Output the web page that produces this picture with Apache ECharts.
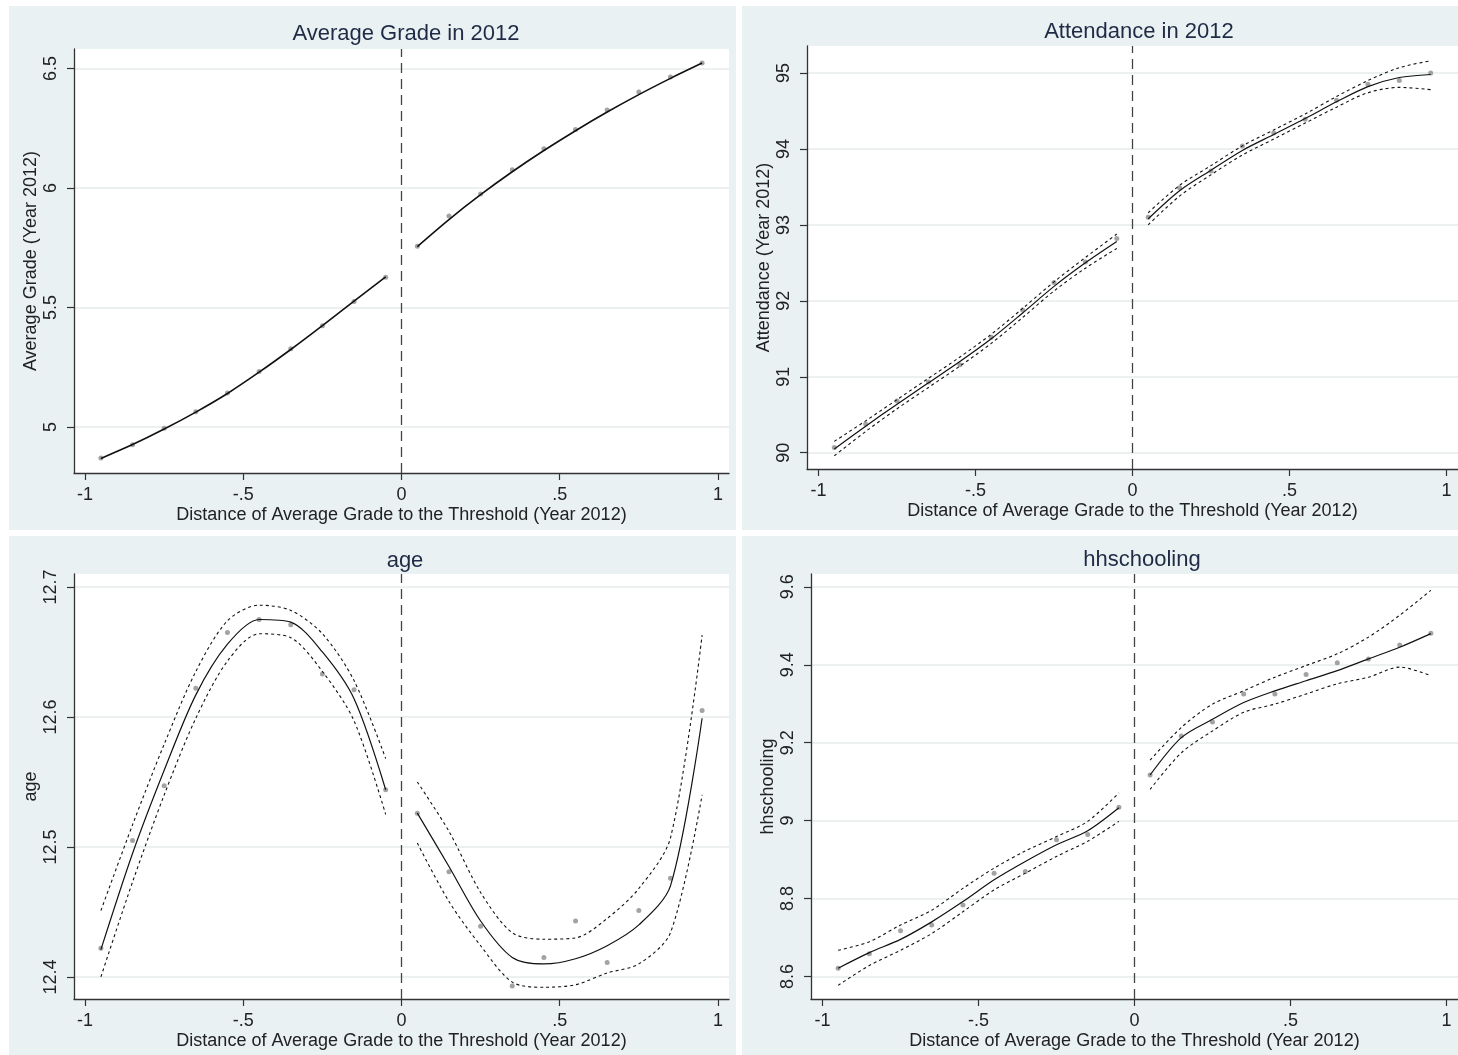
<!DOCTYPE html>
<html>
<head>
<meta charset="utf-8">
<script src="https://cdn.jsdelivr.net/npm/echarts@6/dist/echarts.min.js"></script>
<style>
html, body { margin: 0; padding: 0; background: #fff; }
#main { width: 1458px; height: 1055px; }
</style>
</head>
<body>
<div id="main"></div>
<script>
// bins on each side of the threshold
var binsLeft = [-0.95, -0.85, -0.75, -0.65, -0.55, -0.45, -0.35, -0.25, -0.15, -0.05];
var binsRight = [0.05, 0.15, 0.25, 0.35, 0.45, 0.55, 0.65, 0.75, 0.85, 0.95];
var xTicks = [-1, -0.5, 0, 0.5, 1];

// Average Grade in 2012
var gradeTicks = [5, 5.5, 6, 6.5];
var gradePtsL = [4.870, 4.925, 4.994, 5.063, 5.142, 5.232, 5.327, 5.423, 5.525, 5.626];
var gradePtsR = [5.756, 5.883, 5.975, 6.077, 6.164, 6.245, 6.327, 6.402, 6.465, 6.523];
var gradeFitL = [4.868, 4.926, 4.991, 5.062, 5.140, 5.229, 5.324, 5.424, 5.527, 5.628];
var gradeFitR = [5.755, 5.868, 5.972, 6.068, 6.157, 6.240, 6.318, 6.391, 6.459, 6.523];

// Attendance in 2012
var attTicks = [90, 91, 92, 93, 94, 95];
var attPtsL = [90.07, 90.38, 90.68, 90.93, 91.16, 91.52, 91.88, 92.24, 92.51, 92.82];
var attPtsR = [93.10, 93.49, 93.71, 94.04, 94.21, 94.39, 94.64, 94.85, 94.90, 95.00];
var attFitL = [90.05, 90.35, 90.64, 90.92, 91.20, 91.50, 91.84, 92.19, 92.50, 92.78];
var attHiL = [90.15, 90.42, 90.70, 90.98, 91.26, 91.56, 91.90, 92.25, 92.57, 92.88];
var attLoL = [89.96, 90.28, 90.58, 90.86, 91.14, 91.44, 91.78, 92.13, 92.43, 92.69];
var attFitR = [93.08, 93.45, 93.72, 93.98, 94.19, 94.40, 94.62, 94.82, 94.94, 94.98];
var attHiR = [93.16, 93.52, 93.78, 94.04, 94.25, 94.46, 94.69, 94.90, 95.07, 95.16];
var attLoR = [93.00, 93.38, 93.66, 93.92, 94.13, 94.34, 94.55, 94.74, 94.81, 94.78];

// age
var ageTicks = [12.4, 12.5, 12.6, 12.7];
var agePtsL = [12.422, 12.505, 12.547, 12.622, 12.665, 12.675, 12.671, 12.633, 12.621, 12.544];
var agePtsR = [12.526, 12.481, 12.439, 12.393, 12.415, 12.443, 12.411, 12.451, 12.476, 12.605];
var ageFitL = [12.421, 12.495, 12.559, 12.617, 12.656, 12.675, 12.673, 12.650, 12.614, 12.544];
var ageHiL = [12.451, 12.517, 12.579, 12.635, 12.674, 12.686, 12.682, 12.664, 12.628, 12.568];
var ageLoL = [12.400, 12.473, 12.540, 12.599, 12.643, 12.664, 12.661, 12.635, 12.597, 12.525];
var ageFitR = [12.526, 12.485, 12.443, 12.415, 12.410, 12.414, 12.424, 12.440, 12.470, 12.599];
var ageHiR = [12.550, 12.512, 12.465, 12.434, 12.429, 12.430, 12.445, 12.468, 12.507, 12.663];
var ageLoR = [12.503, 12.458, 12.424, 12.396, 12.392, 12.394, 12.403, 12.410, 12.434, 12.540];

// hhschooling
var hhTicks = [8.6, 8.8, 9, 9.2, 9.4, 9.6];
var hhPtsL = [8.621, 8.658, 8.717, 8.732, 8.783, 8.865, 8.869, 8.951, 8.964, 9.034];
var hhPtsR = [9.117, 9.217, 9.253, 9.325, 9.325, 9.375, 9.405, 9.415, 9.451, 9.481];
var hhFitL = [8.621, 8.661, 8.695, 8.740, 8.792, 8.848, 8.895, 8.938, 8.974, 9.033];
var hhHiL = [8.667, 8.689, 8.732, 8.770, 8.826, 8.878, 8.922, 8.959, 8.998, 9.071];
var hhLoL = [8.577, 8.628, 8.667, 8.710, 8.766, 8.822, 8.865, 8.908, 8.947, 8.998];
var hhFitR = [9.117, 9.213, 9.260, 9.303, 9.333, 9.359, 9.385, 9.415, 9.445, 9.480];
var hhHiR = [9.155, 9.239, 9.299, 9.333, 9.368, 9.398, 9.428, 9.471, 9.527, 9.591];
var hhLoR = [9.080, 9.174, 9.230, 9.278, 9.299, 9.325, 9.351, 9.368, 9.394, 9.372];

var FONT = 'Liberation Sans, Arial, sans-serif';

var panels = [
    { title: 'Average Grade in 2012', yName: 'Average Grade (Year 2012)',
      grid: { left: 74, top: 49, width: 655, height: 424 }, xr: 1.035,
      yMin: 4.807, yMax: 6.582, yTicks: gradeTicks,
      pts: [gradePtsL, gradePtsR], fit: [gradeFitL, gradeFitR], hi: null, lo: null,
      tx: 401, ty: 18, bg: [9, 6, 727, 524] },
    { title: 'Attendance in 2012', yName: 'Attendance (Year 2012)',
      grid: { left: 807, top: 46, width: 655, height: 423 }, xr: 1.037,
      yMin: 89.786, yMax: 95.355, yTicks: attTicks,
      pts: [attPtsL, attPtsR], fit: [attFitL, attFitR], hi: [attHiL, attHiR], lo: [attLoL, attLoR],
      tx: 1134, ty: 16, bg: [742, 6, 716, 524] },
    { title: 'age', yName: 'age',
      grid: { left: 74, top: 574, width: 655, height: 425 }, xr: 1.035,
      yMin: 12.383, yMax: 12.710, yTicks: ageTicks,
      pts: [agePtsL, agePtsR], fit: [ageFitL, ageFitR], hi: [ageHiL, ageHiR], lo: [ageLoL, ageLoR],
      tx: 400, ty: 545, bg: [9, 536, 727, 519] },
    { title: 'hhschooling', yName: 'hhschooling',
      grid: { left: 811, top: 574, width: 653, height: 425 }, xr: 1.037,
      yMin: 8.542, yMax: 9.633, yTicks: hhTicks,
      pts: [hhPtsL, hhPtsR], fit: [hhFitL, hhFitR], hi: [hhHiL, hhHiR], lo: [hhLoL, hhLoR],
      tx: 1137, ty: 544, bg: [742, 536, 716, 519] }
];

function zip(xs, ys) {
    return xs.map(function (x, i) { return [x, ys[i]]; });
}

function fmtX(v) {
    if (v === 0) return '0';
    return String(v).replace('0.', '.');
}

var titles = [], grids = [], xAxes = [], yAxes = [], series = [], graphics = [];

panels.forEach(function (p, i) {
    graphics.push({
        type: 'rect', z: -10,
        shape: { x: p.bg[0], y: p.bg[1], width: p.bg[2], height: p.bg[3] },
        style: { fill: '#e9f1f3' }
    });
    titles.push({
        text: p.title, left: p.tx, top: p.ty, textAlign: 'center',
        textStyle: { fontFamily: FONT, fontSize: 22, fontWeight: 'normal', color: '#1f2b45' }
    });
    grids.push({
        left: p.grid.left, top: p.grid.top, width: p.grid.width, height: p.grid.height,
        show: true, backgroundColor: '#ffffff', borderWidth: 0
    });
    xAxes.push({
        gridIndex: i, type: 'value', min: -p.xr, max: p.xr,
        name: 'Distance of Average Grade to the Threshold (Year 2012)',
        nameLocation: 'middle', nameGap: 33,
        nameTextStyle: { fontFamily: FONT, fontSize: 18, color: '#222' },
        axisLine: { show: true, onZero: false, lineStyle: { color: '#333', width: 1.3 } },
        axisTick: { show: true, length: 7, customValues: xTicks, lineStyle: { color: '#333', width: 1.2 } },
        axisLabel: { customValues: xTicks, margin: 13, fontFamily: FONT, fontSize: 18, color: '#222',
                     formatter: fmtX },
        splitLine: { show: false }
    });
    yAxes.push({
        gridIndex: i, type: 'value', min: p.yMin, max: p.yMax,
        name: p.yName, nameLocation: 'middle', nameRotate: 90, nameGap: 34,
        nameTextStyle: { fontFamily: FONT, fontSize: 18, color: '#222' },
        axisLine: { show: true, onZero: false, lineStyle: { color: '#333', width: 1.3 } },
        axisTick: { show: true, length: 7, customValues: p.yTicks, lineStyle: { color: '#333', width: 1.2 } },
        axisLabel: { customValues: p.yTicks, rotate: 90, margin: 14, fontFamily: FONT, fontSize: 18, color: '#222' },
        splitLine: { show: true, lineStyle: { color: '#e7ebec', width: 1.5 } }
    });

    var pts = zip(binsLeft, p.pts[0]).concat(zip(binsRight, p.pts[1]));
    series.push({
        type: 'scatter', xAxisIndex: i, yAxisIndex: i, data: pts,
        symbol: 'circle', symbolSize: 5, itemStyle: { color: '#8c8c8c' }, z: 3,
        markLine: {
            silent: true, symbol: 'none', label: { show: false },
            lineStyle: { type: [10, 6], color: '#444', width: 1.3 },
            data: [{ xAxis: 0 }]
        }
    });

    var sides = [binsLeft, binsRight];
    sides.forEach(function (bins, s) {
        series.push({
            type: 'line', xAxisIndex: i, yAxisIndex: i, data: zip(bins, p.fit[s]),
            showSymbol: false, smooth: 0.3, z: 4,
            lineStyle: { color: '#111', width: i === 0 ? 1.6 : 1.2 }
        });
        if (p.hi) {
            [p.hi[s], p.lo[s]].forEach(function (band) {
                series.push({
                    type: 'line', xAxisIndex: i, yAxisIndex: i, data: zip(bins, band),
                    showSymbol: false, smooth: 0.3, z: 4,
                    lineStyle: { color: '#111', width: 1.1, type: [3, 3] }
                });
            });
        }
    });
});

var chart = echarts.init(document.getElementById('main'));
chart.setOption({
    backgroundColor: '#ffffff',
    animation: false,
    title: titles,
    grid: grids,
    xAxis: xAxes,
    yAxis: yAxes,
    graphic: graphics,
    series: series
});
</script>
</body>
</html>
